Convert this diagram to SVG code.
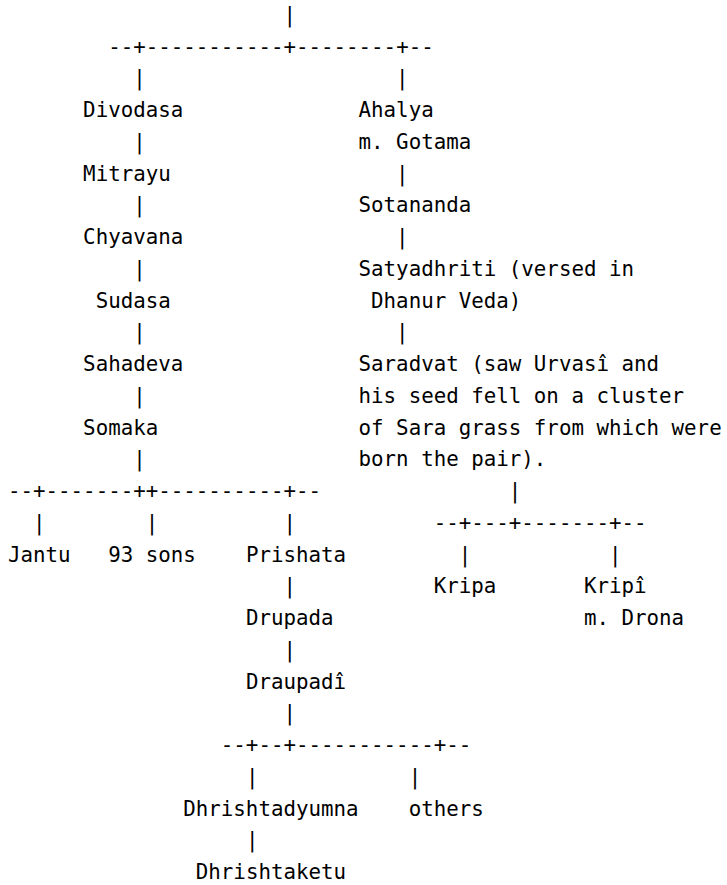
<svg xmlns="http://www.w3.org/2000/svg" width="727" height="885" viewBox="0 0 727 885">
<style>
text{font-family:"DejaVu Sans Mono","Liberation Mono",monospace;font-size:20.8px;fill:#000;white-space:pre}
</style>
<rect width="727" height="885" fill="#fff"/>
<g id="connectors">
<text x="283.44" y="21.75">|</text>
<text x="108.16" y="53.5">--+-----------+--------+--</text>
<text x="133.2" y="85.25">|</text><text x="396.12" y="85.25">|</text>
<text x="133.2" y="148.75">|</text>
<text x="396.12" y="180.5">|</text>
<text x="133.2" y="212.25">|</text>
<text x="396.12" y="244">|</text>
<text x="133.2" y="275.75">|</text>
<text x="133.2" y="339.25">|</text><text x="396.12" y="339.25">|</text>
<text x="133.2" y="402.75">|</text>
<text x="133.2" y="466.25">|</text>
<text x="8" y="498">--+-------++----------+--</text>
<text x="508.8" y="498">|</text>
<text x="33.04" y="529.75">|</text><text x="145.72" y="529.75">|</text><text x="283.44" y="529.75">|</text>
<text x="433.68" y="529.75">--+---+-------+--</text>
<text x="458.72" y="561.5">|</text><text x="608.96" y="561.5">|</text>
<text x="283.44" y="593.25">|</text>
<text x="283.44" y="656.75">|</text>
<text x="283.44" y="720.25">|</text>
<text x="220.84" y="752">--+--+-----------+--</text>
<text x="245.88" y="783.75">|</text><text x="408.64" y="783.75">|</text>
<text x="245.88" y="847.25">|</text>
</g>
<g id="divodasa"><text x="83.12" y="117">Divodasa</text></g>
<g id="ahalya"><text x="358.56" y="117">Ahalya</text><text x="358.56" y="148.75">m. Gotama</text></g>
<g id="mitrayu"><text x="83.12" y="180.5">Mitrayu</text></g>
<g id="sotananda"><text x="358.56" y="212.25">Sotananda</text></g>
<g id="chyavana"><text x="83.12" y="244">Chyavana</text></g>
<g id="satyadhriti"><text x="358.56" y="275.75">Satyadhriti (versed in</text><text x="371.08" y="307.5">Dhanur Veda)</text></g>
<g id="sudasa"><text x="95.64" y="307.5">Sudasa</text></g>
<g id="sahadeva"><text x="83.12" y="371">Sahadeva</text></g>
<g id="saradvat"><text x="358.56" y="371">Saradvat (saw Urvasî and</text><text x="358.56" y="402.75">his seed fell on a cluster</text><text x="358.56" y="434.5">of Sara grass from which were</text><text x="358.56" y="466.25">born the pair).</text></g>
<g id="somaka"><text x="83.12" y="434.5">Somaka</text></g>
<g id="jantu"><text x="8" y="561.5">Jantu</text></g>
<g id="sons93"><text x="108.16" y="561.5">93 sons</text></g>
<g id="prishata"><text x="245.88" y="561.5">Prishata</text></g>
<g id="kripa"><text x="433.68" y="593.25">Kripa</text></g>
<g id="kripi"><text x="583.92" y="593.25">Kripî</text><text x="583.92" y="625">m. Drona</text></g>
<g id="drupada"><text x="245.88" y="625">Drupada</text></g>
<g id="draupadi"><text x="245.88" y="688.5">Draupadî</text></g>
<g id="dhrishtadyumna"><text x="183.28" y="815.5">Dhrishtadyumna</text></g>
<g id="others"><text x="408.64" y="815.5">others</text></g>
<g id="dhrishtaketu"><text x="195.8" y="879">Dhrishtaketu</text></g>
</svg>
